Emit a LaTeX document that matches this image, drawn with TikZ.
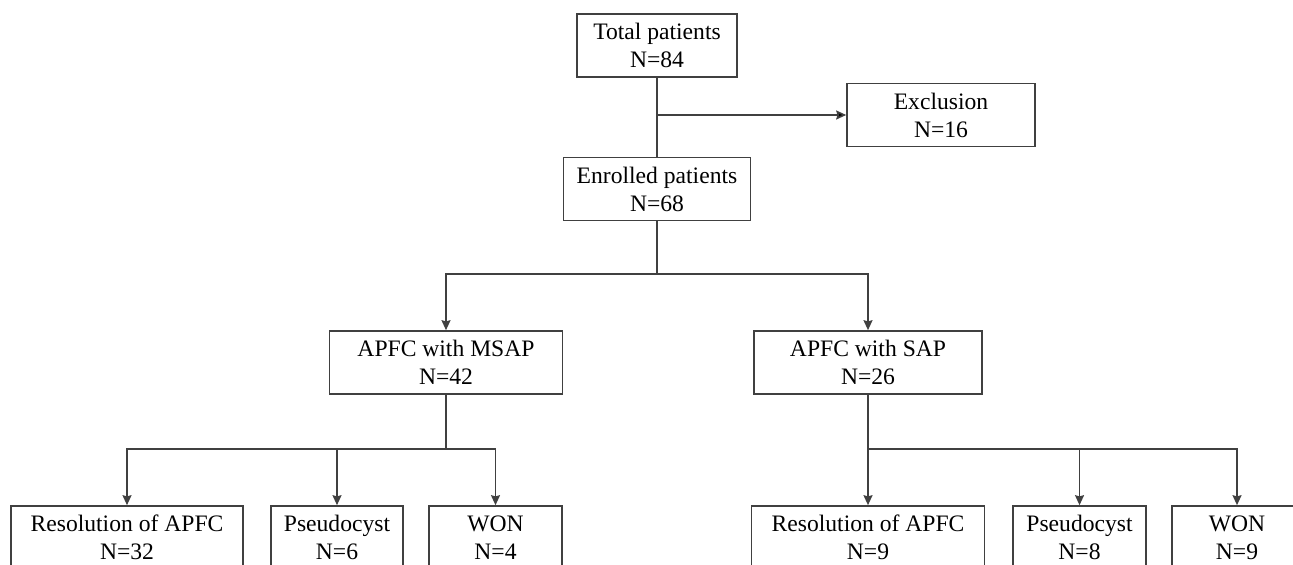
\documentclass[tikz,border=0pt]{standalone}
\usepackage{fontspec}
\setmainfont{Liberation Serif}
\usetikzlibrary{positioning, arrows.meta}
\definecolor{linegray}{rgb}{0.25,0.25,0.25}
\tikzset{
    >={Stealth[length=5pt,width=4.5pt,inset=0.6pt]}, % Filled arrowheads
    box/.style={draw=linegray, line width=0.8pt, align=center, inner sep=0pt,
        minimum height=31.5pt, font=\fontsize{11.8}{14}\selectfont}, % Flow boxes
    link/.style={draw=linegray, line width=0.8pt}, % Connectors
}

\begin{document}
\begin{tikzpicture}[x=0.5pt, y=-0.5pt]
    \useasboundingbox (0,0) rectangle (1293,565);

    \node[box, minimum width=80pt] (total) at (657,45.5) {Total patients\\N=84};
    \node[box, minimum width=94pt] (excl) at (941,115) {Exclusion\\N=16};
    \node[box, minimum width=93.5pt] (enrolled) at (657,189) {Enrolled patients\\N=68};

    \node[box, minimum width=116.5pt] (msap) at (446,362.5) {APFC with MSAP\\N=42};
    \node[box, minimum width=114pt] (sap) at (868,362.5) {APFC with SAP\\N=26};

    \node[box, minimum width=116pt] (res1) at (127,537.5) {Resolution of APFC\\N=32};
    \node[box, minimum width=66pt] (pseudo1) at (337,537.5) {Pseudocyst\\N=6};
    \node[box, minimum width=66.5pt] (won1) at (495.5,537.5) {WON\\N=4};

    \node[box, minimum width=116.5pt] (res2) at (868,537.5) {Resolution of APFC\\N=9};
    \node[box, minimum width=66.5pt] (pseudo2) at (1079.5,537.5) {Pseudocyst\\N=8};
    \node[box, minimum width=65pt] (won2) at (1237,537.5) {WON\\N=9};

    \coordinate (split1) at (657,274);
    \coordinate (split2) at (446,449);
    \coordinate (split3) at (868,449);

    \path[link]
        (total) edge (enrolled)
        (total.south |- excl.west) edge[->] (excl);
    \draw[link] (enrolled) -- (split1);
    \draw[link, ->] (split1) -| (msap);
    \draw[link, ->] (split1) -| (sap);

    \draw[link] (msap) -- (split2);
    \draw[link, ->] (split2) -| (res1);
    \draw[link, ->] (split2) -| (pseudo1);
    \draw[link, ->] (split2) -| (won1);

    \draw[link] (sap) -- (split3);
    \draw[link, ->] (split3) -- (res2);
    \draw[link, ->] (split3) -| (pseudo2);
    \draw[link, ->] (split3) -| (won2);
\end{tikzpicture}
\end{document}
